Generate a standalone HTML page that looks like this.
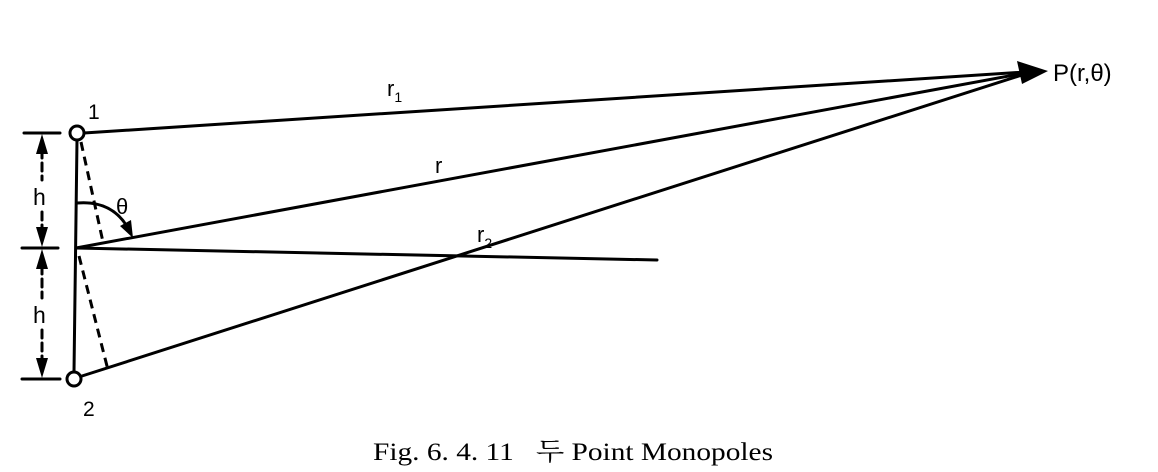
<!DOCTYPE html>
<html><head><meta charset="utf-8"><style>
html,body{margin:0;padding:0;background:#fff;width:1158px;height:472px;overflow:hidden}
svg{display:block}
text{font-family:"Liberation Sans","DejaVu Sans",sans-serif;fill:#000}
</style></head><body>
<svg width="1158" height="472" viewBox="0 0 1158 472" xmlns="http://www.w3.org/2000/svg">
<g stroke="#000" stroke-width="3" fill="none" stroke-linecap="round">
<line x1="77" y1="140" x2="74" y2="372"/>
<line x1="76" y1="248" x2="657" y2="260"/>
<line x1="84" y1="133" x2="1025" y2="72"/>
<line x1="76" y1="248" x2="1025" y2="73"/>
<line x1="82" y1="376" x2="1025" y2="74"/>
<line x1="24" y1="133" x2="60" y2="133"/>
<line x1="22" y1="248" x2="58" y2="248"/>
<line x1="22" y1="379" x2="60" y2="379"/>
<line x1="42" y1="150" x2="42" y2="180" stroke-dasharray="8,5"/>
<line x1="42" y1="212" x2="42" y2="232" stroke-dasharray="8,5"/>
<line x1="42" y1="266" x2="42" y2="298" stroke-dasharray="8,5"/>
<line x1="42" y1="330" x2="42" y2="362" stroke-dasharray="8,5"/>
<path d="M77 203 Q112 200 128 228"/>
</g>
<g stroke="#000" stroke-width="3" fill="none" stroke-dasharray="9,6">
<line x1="81" y1="142" x2="103" y2="242"/>
<line x1="79" y1="256" x2="108" y2="370"/>
</g>
<g fill="#000">
<polygon points="42,134 36,154 48,154"/>
<polygon points="42,247 36,227 48,227"/>
<polygon points="42,249 36,269 48,269"/>
<polygon points="42,378 36,358 48,358"/>
<polygon points="133,238 120,226 131,220"/>
<polygon points="1048,71 1017,61 1022,84"/>
</g>
<circle cx="77" cy="133" r="7" fill="#fff" stroke="#000" stroke-width="3"/>
<circle cx="74" cy="379" r="7" fill="#fff" stroke="#000" stroke-width="3"/>
<text x="88" y="119" font-size="21">1</text>
<text x="83" y="416" font-size="21">2</text>
<text x="33" y="205" font-size="23">h</text>
<text x="33" y="323" font-size="23">h</text>
<text x="116" y="214" font-size="22">θ</text>
<text x="387" y="96" font-size="22">r<tspan font-size="14" dy="6">1</tspan></text>
<text x="435" y="173" font-size="22">r</text>
<text x="477" y="242" font-size="22">r<tspan font-size="14" dy="6">2</tspan></text>
<text x="1053" y="81" font-size="24">P(r,θ)</text>
<text x="373" y="460" font-size="25" textLength="400" lengthAdjust="spacingAndGlyphs" style="font-family:'Liberation Serif','Noto Serif CJK SC','NanumGothic',serif">Fig. 6. 4. 11 &#160; 두 Point Monopoles</text>
</svg>
</body></html>
